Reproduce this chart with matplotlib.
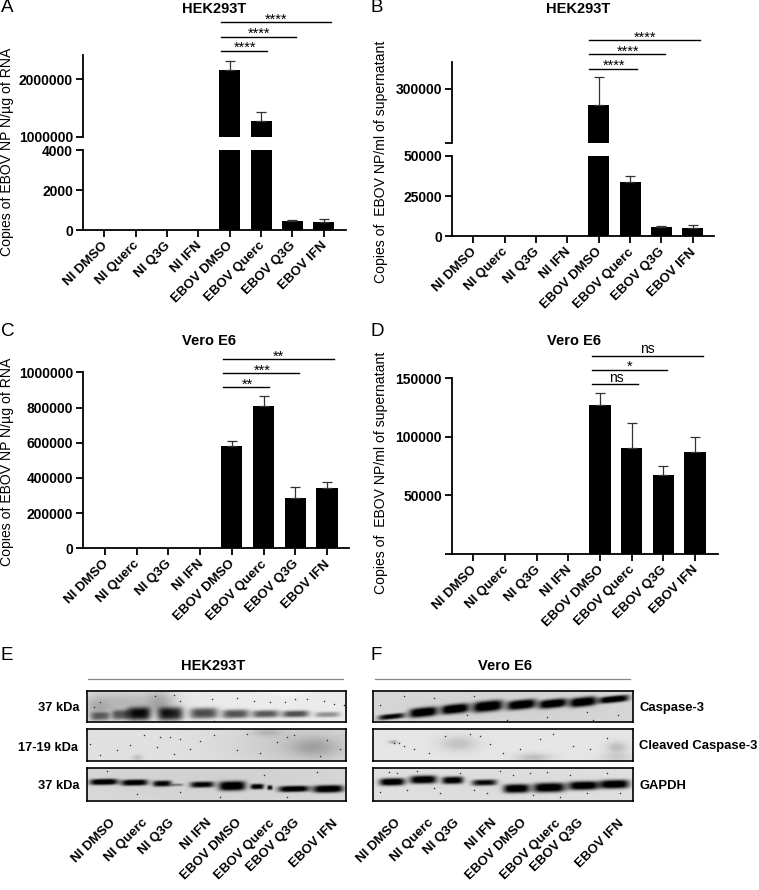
import numpy as np
import matplotlib
matplotlib.use('Agg')
from matplotlib import pyplot as plt
from matplotlib.transforms import ScaledTranslation

plt.rcParams['font.family'] = ['Liberation Sans', 'DejaVu Sans']

W, H = 759, 890

groups = ['NI DMSO', 'NI Querc', 'NI Q3G', 'NI IFN', 'EBOV DMSO', 'EBOV Querc', 'EBOV Q3G', 'EBOV IFN']

a_vals = [0, 0, 0, 0, 2150000, 1280000, 430, 420]
a_tops = [0, 0, 0, 0, 2320000, 1430000, 480, 530]
b_vals = [0, 0, 0, 0, 270000, 33700, 5500, 5000]
b_tops = [0, 0, 0, 0, 321000, 37600, 6200, 6800]
c_vals = [0, 0, 0, 0, 583000, 808000, 288000, 340000]
c_tops = [0, 0, 0, 0, 610000, 865000, 350000, 378000]
d_vals = [0, 0, 0, 0, 127000, 90500, 67000, 87000]
d_tops = [0, 0, 0, 0, 137500, 112000, 74500, 100000]

a_sig = ['****', '****', '****']
b_sig = ['****', '****', '****']
c_sig = ['**', '***', '**']
d_sig = ['ns', '*', 'ns']

# blot bands: x centre, half width, y centre, half height, darkness (3x crop pixels inside each blot)
e_casp = [(40, 30, 75, 12, .4), (100, 25, 71, 15, .5), (155, 35, 68, 20, .8), (250, 38, 68, 20, .75),
          (350, 42, 66, 16, .62), (445, 40, 68, 13, .6), (535, 40, 68, 11, .58), (625, 40, 68, 10, .62),
          (720, 37, 70, 8, .35)]
e_clvd = []
e_gapdh = [(50, 42, 41, 9, .98), (142, 40, 43, 9, .95), (225, 28, 46, 9, .85), (270, 18, 50, 4, .35),
           (345, 36, 49, 9, .85), (435, 40, 53, 14, 1), (510, 20, 55, 8, .9), (548, 8, 58, 7, .8),
           (620, 46, 62, 9, .98), (723, 45, 62, 11, 1)]
f_casp = [(55, 40, 76, 8, .85), (150, 42, 63, 14, 1), (245, 42, 53, 14, 1), (343, 45, 45, 16, 1),
          (444, 43, 40, 14, 1), (538, 42, 37, 13, 1), (628, 40, 32, 14, 1), (720, 45, 24, 10, 1)]
f_clvd = []
f_gapdh = [(57, 38, 41, 11, 1), (150, 40, 34, 12, 1), (238, 32, 36, 11, .95), (333, 37, 43, 9, .85),
           (429, 39, 61, 13, 1), (527, 48, 58, 14, 1), (630, 45, 52, 13, 1), (722, 44, 48, 13, 1)]

# soft background smears: x, y, x spread, y spread, darkness
e_casp_bg = [(110, 35, 130, 40, .2), (220, 35, 40, 40, .18), (30, 60, 40, 40, .15), (600, 5, 60, 10, -.05)]
e_clvd_bg = [(680, 55, 70, 28, .16), (540, 12, 45, 12, .12), (150, 85, 15, 8, .14), (650, 50, 220, 70, .1)]
e_gapdh_bg = [(400, 30, 400, 80, .03)]
f_casp_bg = [(400, 50, 420, 60, .03)]
f_clvd_bg = [(255, 45, 55, 22, .14), (60, 40, 14, 5, .25), (480, 85, 50, 12, .16), (730, 55, 30, 16, .16), (730, 85, 50, 15, .1)]
f_gapdh_bg = [(400, 50, 420, 60, .02)]

# dust specks: x, y
e_casp_dust = [(260, 11), (280, 28), (375, 23), (500, 28), (595, 33), (625, 23), (660, 23), (710, 28), (740, 38),
               (205, 13), (40, 33), (20, 48), (380, 88), (550, 33), (450, 20), (770, 40)]
e_clvd_dust = [(170, 18), (220, 23), (250, 23), (280, 28), (10, 43), (130, 48), (210, 53), (310, 58), (380, 18),
               (480, 13), (600, 23), (720, 33), (570, 38), (620, 18), (450, 63), (260, 73), (760, 58), (40, 78),
               (700, 80), (340, 35), (90, 62), (520, 70)]
e_gapdh_dust = [(60, 8), (280, 70), (530, 20), (690, 12), (400, 85), (600, 85), (150, 78)]
f_casp_dust = [(90, 15), (280, 70), (400, 85), (520, 78), (660, 85), (20, 40), (180, 20), (640, 62), (735, 70), (300, 15)]
f_clvd_dust = [(60, 40), (75, 42), (90, 50), (215, 20), (290, 15), (320, 20), (350, 45), (440, 60), (540, 15),
               (600, 50), (650, 60), (165, 70), (500, 30), (120, 60), (390, 70), (700, 25)]
f_gapdh_dust = [(45, 10), (70, 15), (100, 65), (180, 60), (200, 75), (260, 15), (300, 65), (380, 8), (420, 20),
                (470, 15), (520, 12), (590, 20), (640, 75), (700, 15), (740, 75), (20, 70), (130, 8), (480, 80), (340, 75), (560, 85)]

e_rows = [(e_casp, e_casp_bg, e_casp_dust, .92, .02), (e_clvd, e_clvd_bg, e_clvd_dust, .88, 0), (e_gapdh, e_gapdh_bg, e_gapdh_dust, .85, .02)]
f_rows = [(f_casp, f_casp_bg, f_casp_dust, .85, .1), (f_clvd, f_clvd_bg, f_clvd_dust, .9, 0), (f_gapdh, f_gapdh_bg, f_gapdh_dust, .88, .02)]
row_y = [(691, 722), (729, 761), (768, 801)]


def rect(x0, y0, x1, y1):
    # pixel box (top-left origin) to figure fraction
    return [x0 / W, 1 - y1 / H, (x1 - x0) / W, (y1 - y0) / H]


def draw_bars(ax, vals, tops):
    x = np.arange(len(vals))
    v = np.array(vals, dtype=float)
    t = np.array(tops, dtype=float)
    ax.bar(x, v, width=0.67, color='black')
    m = v > 0
    ax.errorbar(x[m], v[m], yerr=[np.zeros(m.sum()), t[m] - v[m]], fmt='none', ecolor='#333333',
                elinewidth=0.9, capsize=3.8, capthick=0.9)


def style(ax, xlim, bottom=True):
    ax.set_xlim(*xlim)
    ax.patch.set_alpha(0)
    ax.spines['top'].set_visible(False)
    ax.spines['right'].set_visible(False)
    ax.spines['left'].set_linewidth(1.3)
    ax.tick_params(axis='y', length=5, width=1.3, pad=2.5)
    for lab in ax.get_yticklabels():
        lab.set_fontweight('bold')
        lab.set_fontsize(10)
    if bottom:
        ax.spines['bottom'].set_linewidth(1.3)
        ax.set_xticks(range(len(groups)))
        ax.set_xticklabels(groups, rotation=45, ha='right', rotation_mode='anchor',
                           fontweight='bold', fontsize=9.5, va='top')
        ax.tick_params(axis='x', length=5, width=1.3, pad=2)
        shift = ScaledTranslation(-2 / 72, 0, fig.dpi_scale_trans)
        for lab in ax.get_xticklabels():
            lab.set_transform(lab.get_transform() + shift)
    else:
        ax.spines['bottom'].set_visible(False)
        ax.set_xticks([])


def x_limits(left, right, first, last):
    step = (last - first) / 7
    return (left - first) / step, (right - first) / step


def simple_panel(box, first, last, vals, tops, ticks, labels):
    ax = fig.add_axes(rect(*box))
    draw_bars(ax, vals, tops)
    ax.set_ylim(0, ticks[-1])
    ax.set_yticks(ticks)
    ax.set_yticklabels(labels)
    style(ax, x_limits(box[0], box[2], first, last))
    return ax


def broken_panel(x0, x1, low_box, up_box, first, last, vals, tops, low_ticks, up_ticks, up_top, up_labels):
    lims = x_limits(x0, x1, first, last)
    low = fig.add_axes(rect(x0, low_box[0], x1, low_box[1]))
    draw_bars(low, vals, tops)
    low.set_ylim(0, low_ticks[-1])
    low.set_yticks(low_ticks)
    low.set_yticklabels([str(t) for t in low_ticks])
    style(low, lims)
    up = fig.add_axes(rect(x0, up_box[0], x1, up_box[1]))
    draw_bars(up, vals, tops)
    up.set_ylim(up_ticks[0], up_top)
    up.set_yticks(up_ticks)
    up.set_yticklabels(up_labels)
    style(up, lims, bottom=False)


def blot(box, bands, smears, dust, base, tilt):
    x0, y0, x1, y1 = box
    w, h = (x1 - x0) * 3, (y1 - y0) * 3
    gx, gy = np.meshgrid(np.arange(0, w, 1.5), np.arange(0, h, 1.5))
    img = np.full(gx.shape, float(base))
    for sx, sy, sw, sh, d in smears:
        img -= d * np.exp(-((gx - sx) / sw) ** 2 - ((gy - sy) / sh) ** 2)
    for bx, bw, by, bh, d in bands:
        img -= d * np.exp(-np.abs((gx - bx) / bw) ** 4 - np.abs((gy - by + tilt * (gx - bx)) / bh) ** 3)
    ax = fig.add_axes(rect(*box))
    ax.imshow(np.clip(img, 0, 1), cmap='gray', vmin=0, vmax=1, aspect='auto', interpolation='bilinear')
    xlim, ylim = ax.get_xlim(), ax.get_ylim()
    ax.scatter([d[0] / 1.5 for d in dust], [d[1] / 1.5 for d in dust], s=1.2, color='#333333', linewidths=0)
    ax.set_xlim(xlim)
    ax.set_ylim(ylim)
    ax.set_xticks([])
    ax.set_yticks([])
    for s in ax.spines.values():
        s.set_linewidth(1.2)


def brackets(x0, ends, ys, labels, label_x):
    for x1, y, lab, lx in zip(ends, ys, labels, label_x):
        ov.plot([x0, x1], [y, y], color='black', lw=1.0)
        if lab == 'ns':
            ov.text(lx, y + 0.5, lab, ha='center', va='bottom', fontsize=10)
        else:
            ov.text(lx, y + 4.5, lab, ha='center', va='bottom', fontsize=10.5)


fig = plt.figure(figsize=(W / 100, H / 100), dpi=100)

broken_panel(83.3, 345.7, (150, 230), (55, 136.7), 104.3, 323.7, a_vals, a_tops,
             [0, 2000, 4000], [1000000, 2000000], 2416000, ['1000000', '2000000'])
broken_panel(452.3, 714.3, (155.7, 236.3), (61.7, 142.7), 473.3, 692.7, b_vals, b_tops,
             [0, 25000, 50000], [200000, 300000], 350000, ['', '300000'])
simple_panel((83.3, 372.3, 349, 548.3), 105, 327, c_vals, c_tops,
             [0, 200000, 400000, 600000, 800000, 1000000],
             ['0', '200000', '400000', '600000', '800000', '1000000'])
simple_panel((452.3, 378, 717.7, 553.7), 473.3, 695, d_vals, d_tops,
             [0, 50000, 100000, 150000], ['', '50000', '100000', '150000'])

for (y0, y1), row in zip(row_y, e_rows):
    blot((86.7, y0, 345.7, y1), *row)
for (y0, y1), row in zip(row_y, f_rows):
    blot((373.3, y0, 632.7, y1), *row)

# overlay in image pixels for annotation text and brackets
ov = fig.add_axes([0, 0, 1, 1], zorder=10)
ov.set_xlim(0, W)
ov.set_ylim(H, 0)
ov.axis('off')

brackets(220.7, [331.3, 296, 267.3], [22.3, 36.7, 50.7], a_sig, [276, 259, 245])
brackets(589.3, [700.3, 665, 636.7], [40.3, 54.3, 68.7], b_sig, [645, 628, 614])
brackets(223, [334, 298.7, 269.3], [359, 373, 387], c_sig, [278.7, 262, 247.3])
brackets(592, [702.7, 667, 638.3], [355.7, 369.7, 384], d_sig, [647, 630, 616.3])

for lab, x, y in [('A', 1, 8), ('B', 371, 8), ('C', 1, 332), ('D', 371, 332), ('E', 1, 655), ('F', 371, 655)]:
    ov.text(x, y, lab, fontsize=13.5, ha='left', va='center')

for lab, x, y in [('HEK293T', 213.7, 9.3), ('HEK293T', 578, 9.3), ('Vero E6', 209, 340.7), ('Vero E6', 574, 340.7),
                  ('HEK293T', 213, 666), ('Vero E6', 505, 666)]:
    ov.text(x, y, lab, fontsize=10.5, fontweight='bold', ha='center', va='center')

for lab, x, y in [('Copies of EBOV NP N/µg of RNA', 7, 151.7), ('Copies of  EBOV NP/ml of supernatant', 381.5, 162),
                  ('Copies of EBOV NP N/µg of RNA', 7, 461.7), ('Copies of  EBOV NP/ml of supernatant', 381, 473)]:
    ov.text(x, y, lab, fontsize=10.1, rotation=90, ha='center', va='center')

ov.plot([87.7, 342.7], [678.7, 678.7], color='#888888', lw=0.9)
ov.plot([374.7, 630], [678.7, 678.7], color='#888888', lw=0.9)

for lab, x, y in [('37 kDa', 80, 708), ('17-19 kDa', 78, 747.7), ('37 kDa', 80, 786)]:
    ov.text(x, y, lab, fontsize=9.3, fontweight='bold', ha='right', va='center')
for lab, y in [('Caspase-3', 708), ('Cleaved Caspase-3', 746.3), ('GAPDH', 786)]:
    ov.text(639.3, y, lab, fontsize=9.4, fontweight='bold', ha='left', va='center')

e_ends = [115, 147.7, 174, 211.7, 241.7, 275, 299, 338]
f_ends = [400.7, 433, 459, 497, 527, 561, 583, 624]
for lab, xe, xf in zip(groups, e_ends, f_ends):
    for x in (xe, xf):
        ov.text(x - 6, 817, lab, fontsize=9.5, fontweight='bold', rotation=45, ha='right', va='top',
                rotation_mode='anchor')

fig.savefig('out.png', dpi=100)
